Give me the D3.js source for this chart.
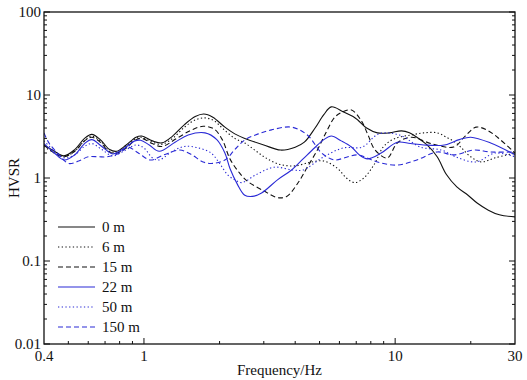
<!DOCTYPE html>
<html>
<head>
<meta charset="utf-8">
<script src="https://cdn.jsdelivr.net/npm/d3@7"></script>
<style>
  body { margin: 0; background: #fff; }
</style>
</head>
<body>
<div id="chart"></div>
<script>
// HVSR curves, [frequency Hz, ratio]
const hv0 = [[0.4,2.5],[0.44,2.1],[0.48,1.85],[0.53,2.2],[0.58,3.0],[0.62,3.35],[0.67,2.9],[0.73,2.2],[0.78,2.1],[0.85,2.5],[0.93,3.1],[0.98,3.2],[1.08,2.8],[1.18,2.65],[1.3,3.2],[1.45,4.4],[1.6,5.5],[1.73,5.9],[1.88,5.4],[2.1,4.1],[2.3,3.4],[2.52,3.0],[3.0,2.5],[3.5,2.17],[4.0,2.35],[4.35,2.7],[4.8,4.0],[5.2,5.8],[5.57,7.2],[6.2,6.3],[6.8,5.5],[7.1,5.0],[7.7,4.0],[8.5,3.5],[9.5,3.5],[10.6,3.7],[11.4,3.5],[12.2,3.1],[13.4,2.5],[14.7,1.8],[16,1.1],[17.6,0.78],[19.5,0.62],[21.2,0.5],[23.5,0.41],[26,0.36],[30,0.34]];
const hv6 = [[0.4,2.4],[0.44,2.0],[0.48,1.8],[0.53,2.1],[0.58,2.8],[0.62,3.2],[0.67,2.8],[0.73,2.1],[0.78,2.0],[0.85,2.4],[0.93,3.0],[0.98,3.1],[1.08,2.7],[1.18,2.55],[1.3,3.0],[1.45,4.1],[1.6,5.0],[1.75,5.3],[1.9,4.9],[2.05,4.0],[2.3,3.0],[2.52,2.64],[2.8,2.1],[3.1,1.7],[3.5,1.45],[4.0,1.4],[4.6,1.55],[5.2,1.6],[5.9,1.3],[6.4,1.0],[6.9,0.88],[7.5,1.0],[8.3,1.5],[9.0,2.4],[10,3.0],[11.6,3.3],[13,3.5],[14.7,3.5],[16,3.1],[17.6,2.6],[20,1.8],[22,1.56],[25,1.75],[30,2.0]];
const hv15 = [[0.4,2.5],[0.44,2.0],[0.48,1.8],[0.53,2.1],[0.58,2.8],[0.62,3.1],[0.67,2.7],[0.73,2.05],[0.78,2.0],[0.85,2.3],[0.93,2.9],[0.98,3.0],[1.08,2.6],[1.18,2.4],[1.35,3.0],[1.55,3.8],[1.72,4.2],[1.9,3.9],[2.05,2.9],[2.2,1.7],[2.4,1.15],[2.6,0.9],[3.0,0.7],[3.4,0.58],[3.7,0.6],[4.1,0.87],[4.5,1.4],[4.9,2.17],[5.3,3.5],[5.75,5.4],[6.2,6.3],[6.7,6.6],[7.3,5.0],[7.8,3.3],[8.3,2.2],[9.3,1.74],[10.2,2.64],[11.6,3.1],[13.9,2.6],[17.1,2.36],[19,3.2],[21,4.1],[23.5,3.7],[26.3,2.87],[30,2.0]];
const hv22 = [[0.4,2.6],[0.44,2.0],[0.48,1.65],[0.53,1.9],[0.58,2.6],[0.62,2.9],[0.68,2.4],[0.75,1.95],[0.82,2.2],[0.92,2.8],[0.97,2.85],[1.05,2.5],[1.15,2.1],[1.33,2.7],[1.5,3.3],[1.75,3.5],[1.95,2.9],[2.1,2.0],[2.2,1.3],[2.35,0.85],[2.52,0.62],[2.7,0.6],[2.94,0.66],[3.4,0.95],[3.87,1.25],[4.3,1.7],[4.77,2.3],[5.2,2.9],[5.57,3.2],[6.1,2.8],[6.7,2.36],[7.2,1.9],[7.76,1.7],[8.8,2.0],[10.2,2.7],[11.5,2.6],[13,2.5],[15.7,2.5],[18,2.9],[20,3.1],[24,2.64],[30,1.9]];
const hv50 = [[0.4,2.8],[0.44,2.1],[0.48,1.75],[0.53,1.9],[0.58,2.4],[0.62,2.6],[0.68,2.2],[0.75,1.85],[0.83,2.1],[0.93,2.5],[1.0,2.3],[1.08,1.75],[1.15,1.65],[1.3,2.1],[1.45,2.4],[1.65,2.3],[1.85,2.0],[2.0,1.5],[2.15,1.1],[2.3,0.95],[2.45,0.88],[2.8,1.1],[3.3,1.35],[3.9,1.25],[4.3,1.25],[5.1,1.74],[6.2,2.3],[7.4,2.36],[8.6,3.4],[10.4,3.3],[12.6,2.36],[15.3,2.17],[17.4,1.8],[21,1.56],[25,2.0],[30,1.8]];
const hv150 = [[0.4,3.5],[0.42,2.6],[0.46,1.9],[0.5,1.5],[0.55,1.6],[0.6,1.8],[0.66,1.8],[0.71,1.8],[0.8,2.0],[0.86,2.36],[0.95,2.0],[1.06,1.65],[1.2,1.9],[1.39,2.17],[1.55,1.9],[1.72,1.56],[1.88,1.5],[2.1,1.65],[2.3,2.2],[2.52,2.87],[2.85,3.4],[3.22,3.8],[3.87,4.1],[4.47,3.3],[5.1,2.0],[5.73,1.65],[6.3,1.75],[7.07,1.9],[8.5,1.56],[10.2,1.43],[12.2,1.65],[14.7,2.06],[17.1,1.9],[20.6,2.17],[24,2.06],[30,2.06]];

const depthLabels = ["0 m", "6 m", "15 m", "22 m", "50 m", "150 m"];
const xTickLabels = [0.4, 1, 10, 30];
const yTickLabels = [0.01, 0.1, 1, 10, 100];

const black = "#111", blue = "#2a2ad6";
const series = [
  { name: depthLabels[0], data: hv0, color: black, dash: null },
  { name: depthLabels[1], data: hv6, color: black, dash: "1.3,2.4" },
  { name: depthLabels[2], data: hv15, color: black, dash: "5,3" },
  { name: depthLabels[3], data: hv22, color: blue, dash: null },
  { name: depthLabels[4], data: hv50, color: blue, dash: "1.3,2.4" },
  { name: depthLabels[5], data: hv150, color: blue, dash: "5,3" }
];

const width = 527, height = 380;
const margin = { top: 12, right: 12, bottom: 36, left: 44 };
const iw = width - margin.left - margin.right;
const ih = height - margin.top - margin.bottom;
const font = "'Liberation Serif', 'DejaVu Serif', serif";

const x = d3.scaleLog().domain([0.4, 30]).range([0, iw]);
const y = d3.scaleLog().domain([0.01, 100]).range([ih, 0]);

const svg = d3.select("#chart").append("svg")
  .attr("width", width)
  .attr("height", height)
  .attr("font-family", font);

const g = svg.append("g").attr("transform", `translate(${margin.left},${margin.top})`);

g.append("clipPath").attr("id", "clip")
  .append("rect").attr("width", iw).attr("height", ih);

// minor ticks
const xMinor = [0.5,0.6,0.7,0.8,0.9,2,3,4,5,6,7,8,9,20];
const xMajor = [1, 10];
const yMinor = [];
for (let e = -2; e < 2; e++) for (let k = 2; k <= 9; k++) yMinor.push(k * Math.pow(10, e));

const ticks = g.append("g").attr("stroke", "#111").attr("stroke-width", 1);
ticks.append("g").selectAll("line").data(xMinor).join("line")
  .attr("x1", d => x(d)).attr("x2", d => x(d)).attr("y1", ih).attr("y2", ih - 3);
ticks.append("g").selectAll("line").data(xMajor).join("line")
  .attr("x1", d => x(d)).attr("x2", d => x(d)).attr("y1", ih).attr("y2", ih - 6);
for (const side of [0, iw]) {
  const dir = side === 0 ? 1 : -1;
  ticks.append("g").selectAll("line").data(yMinor).join("line")
    .attr("x1", side).attr("x2", side + dir * 3).attr("y1", d => y(d)).attr("y2", d => y(d));
  ticks.append("g").selectAll("line").data(yTickLabels).join("line")
    .attr("x1", side).attr("x2", side + dir * 6).attr("y1", d => y(d)).attr("y2", d => y(d));
}

// curves
const line = d3.line()
  .x(d => x(d[0]))
  .y(d => y(d[1]))
  .curve(d3.curveCatmullRom.alpha(0.5));

g.append("g").attr("clip-path", "url(#clip)")
  .selectAll("path").data(series).join("path")
  .attr("fill", "none")
  .attr("stroke", d => d.color)
  .attr("stroke-width", 1.1)
  .attr("stroke-dasharray", d => d.dash)
  .attr("d", d => line(d.data));

// frame
g.append("rect").attr("width", iw).attr("height", ih)
  .attr("fill", "none").attr("stroke", "#111").attr("stroke-width", 1.3);

// tick labels
g.append("g").selectAll("text").data(yTickLabels).join("text")
  .attr("x", -3).attr("y", d => y(d)).attr("dy", "0.32em")
  .attr("text-anchor", "end").attr("font-size", 15).attr("fill", "#111")
  .text(d => d);

g.append("g").selectAll("text").data(xTickLabels).join("text")
  .attr("x", d => x(d)).attr("y", ih + 17)
  .attr("text-anchor", "middle").attr("font-size", 15).attr("fill", "#111")
  .text(d => d);

// axis titles
svg.append("text")
  .attr("x", margin.left + iw / 2).attr("y", height - 5)
  .attr("text-anchor", "middle").attr("font-size", 15).attr("fill", "#111")
  .text("Frequency/Hz");

svg.append("text")
  .attr("transform", `translate(19,${margin.top + y(1)}) rotate(-90)`)
  .attr("text-anchor", "middle").attr("font-size", 15).attr("fill", "#111")
  .text("HVSR");

// legend
const legend = g.append("g").attr("transform", "translate(14,215)");
const row = legend.selectAll("g").data(series).join("g")
  .attr("transform", (d, i) => `translate(0,${i * 20})`);
row.append("line")
  .attr("x1", 0).attr("x2", 37).attr("y1", 0).attr("y2", 0)
  .attr("stroke", d => d.color).attr("stroke-width", 1.1)
  .attr("stroke-dasharray", d => d.dash);
row.append("text")
  .attr("x", 44).attr("y", 0).attr("dy", "0.35em")
  .attr("font-size", 15).attr("fill", "#111")
  .text(d => d.name);
</script>
</body>
</html>
